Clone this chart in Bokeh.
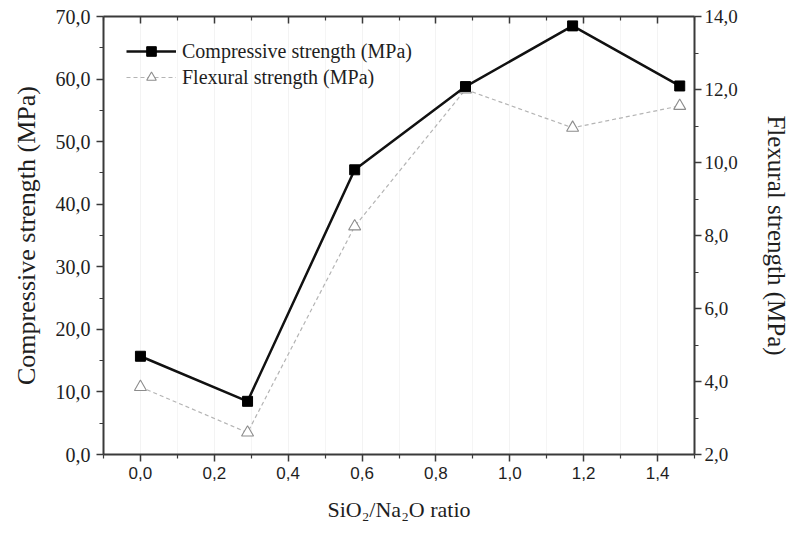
from bokeh.plotting import figure
from bokeh.models import (Range1d, LinearAxis, FixedTicker, Legend, LegendItem,
                          CustomLabelingPolicy)
from bokeh.embed import file_html
from bokeh.resources import INLINE

# SiO2/Na2O ratio of each mix
ratio = [0.0, 0.29, 0.58, 0.88, 1.17, 1.46]
# Compressive strength, MPa (left axis)
compressive = [15.7, 8.5, 45.5, 58.8, 68.5, 58.9]
# Flexural strength, MPa (right axis)
flexural = [3.85, 2.6, 8.25, 12.0, 10.95, 11.55]

x_ticks = [0.0, 0.2, 0.4, 0.6, 0.8, 1.0, 1.2, 1.4]
x_tick_labels = ["0,0", "0,2", "0,4", "0,6", "0,8", "1,0", "1,2", "1,4"]
x_minor = [-0.1, 0.1, 0.3, 0.5, 0.7, 0.9, 1.1, 1.3, 1.5]

left_ticks = [0, 10, 20, 30, 40, 50, 60, 70]
left_tick_labels = ["0,0", "10,0", "20,0", "30,0", "40,0", "50,0", "60,0", "70,0"]
left_minor = [5, 15, 25, 35, 45, 55, 65]

right_ticks = [2, 4, 6, 8, 10, 12, 14]
right_tick_labels = ["2,0", "4,0", "6,0", "8,0", "10,0", "12,0", "14,0"]
right_minor = [3, 5, 7, 9, 11, 13]

SERIF = "Liberation Serif"
SANS = "Liberation Sans"
AXIS_COLOR = "#3a3a3a"
TEXT_COLOR = "#1e1e1e"

p = figure(width=792, height=535, output_backend="svg", toolbar_location=None,
           x_range=Range1d(-0.1, 1.5), y_range=Range1d(0, 70),
           min_border_left=103, min_border_right=94,
           min_border_top=16, min_border_bottom=81)
p.extra_y_ranges = {"flex": Range1d(2, 14)}
p.outline_line_color = None
p.background_fill_color = "white"
p.border_fill_color = "white"

# faint vertical grid, no horizontal grid
p.ygrid.visible = False
p.xgrid.ticker = FixedTicker(ticks=x_ticks, minor_ticks=x_minor)
p.xgrid.grid_line_color = "#f3f3f3"
p.xgrid.minor_grid_line_color = "#f5f5f5"


def style_axis(ax, tick_in=False):
    ax.axis_line_color = AXIS_COLOR
    ax.axis_line_width = 2
    ax.major_tick_line_color = AXIS_COLOR
    ax.minor_tick_line_color = AXIS_COLOR
    ax.major_tick_line_width = 1.5
    ax.minor_tick_line_width = 1.2
    if tick_in:
        ax.major_tick_in, ax.major_tick_out = 7, 0
        ax.minor_tick_in, ax.minor_tick_out = 4, 0
    else:
        ax.major_tick_in, ax.major_tick_out = 0, 7
        ax.minor_tick_in, ax.minor_tick_out = 0, 4
    ax.major_label_text_color = TEXT_COLOR
    ax.axis_label_text_color = TEXT_COLOR
    ax.axis_label_text_font = SERIF
    ax.axis_label_text_font_style = "normal"
    ax.axis_label_text_font_size = "22px"


# bottom axis
xa = p.xaxis[0]
xa.ticker = FixedTicker(ticks=x_ticks, minor_ticks=x_minor)
xa.major_label_overrides = dict(zip(x_ticks, x_tick_labels))
style_axis(xa)
xa.major_label_text_font = SANS
xa.major_label_text_font_size = "17px"
xa.major_label_standoff = 5
xa.axis_label = "SiO\u2082/Na\u2082O ratio"
xa.axis_label_standoff = 15

# left axis
ya = p.yaxis[0]
ya.ticker = FixedTicker(ticks=left_ticks, minor_ticks=left_minor)
ya.major_label_overrides = dict(zip(left_ticks, left_tick_labels))
style_axis(ya)
ya.major_label_text_font = SERIF
ya.major_label_text_font_size = "20px"
ya.major_label_standoff = 6
ya.axis_label = "Compressive strength (MPa)"
ya.axis_label_text_font_size = "26px"
ya.axis_label_standoff = 12

# top axis: ticks only, pointing inward, no labels
top = LinearAxis(ticker=FixedTicker(ticks=x_ticks, minor_ticks=x_minor))
style_axis(top, tick_in=True)
top.major_label_policy = CustomLabelingPolicy(code="""
    for (const i of indices)
        indices.unset(i)
    return indices
""")
top.major_label_standoff = 0
p.add_layout(top, "above")

# right axis for flexural strength
ra = LinearAxis(y_range_name="flex",
                ticker=FixedTicker(ticks=right_ticks, minor_ticks=right_minor))
ra.major_label_overrides = dict(zip(right_ticks, right_tick_labels))
style_axis(ra)
ra.major_label_text_font = SERIF
ra.major_label_text_font_size = "19px"
ra.major_label_standoff = 3
ra.axis_label = "Flexural strength (MPa)"
ra.axis_label_text_font_size = "25px"
ra.axis_label_standoff = 22
p.add_layout(ra, "right")

# series
flex_line = p.line(ratio, flexural, y_range_name="flex", line_color="#b4b4b4",
                   line_width=1.2, line_dash="4 3")
flex_pts = p.scatter(ratio, flexural, y_range_name="flex", marker="triangle",
                     size=12, fill_color="white", line_color="#8c8c8c", line_width=1.1)
comp_line = p.line(ratio, compressive, line_color="#111111", line_width=2.5)
comp_pts = p.scatter(ratio, compressive, marker="square", size=10,
                     fill_color="#000000", line_color="#000000")

legend = Legend(items=[
    LegendItem(label="Compressive strength (MPa)", renderers=[comp_line, comp_pts]),
    LegendItem(label="Flexural strength (MPa)", renderers=[flex_line, flex_pts]),
], location="top_left")
legend.border_line_color = None
legend.background_fill_alpha = 0
legend.margin = 23
legend.padding = 10
legend.spacing = 2
legend.glyph_width = 50
legend.glyph_height = 24
legend.label_height = 24
legend.label_standoff = 6
legend.label_text_font = SERIF
legend.label_text_font_size = "20px"
legend.label_text_color = TEXT_COLOR
p.add_layout(legend, "center")

open("out.html", "w").write(file_html(p, INLINE))
